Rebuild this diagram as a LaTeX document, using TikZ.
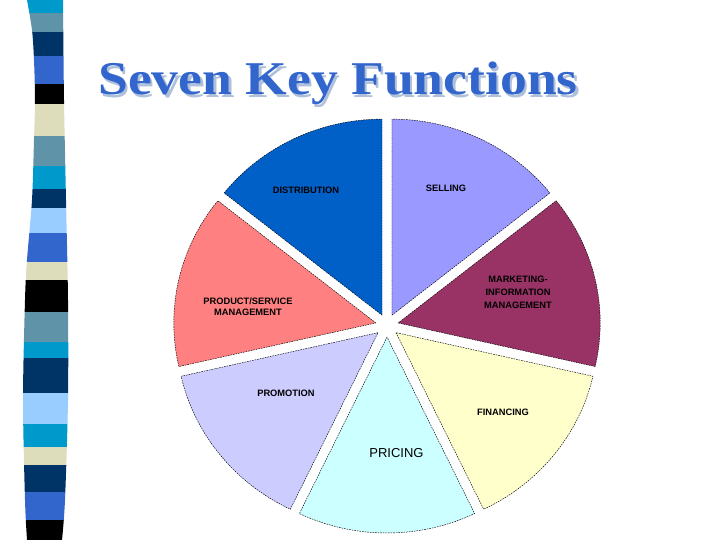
\documentclass[tikz,border=0pt]{standalone}
\usepackage{fontspec}
\setmainfont{Liberation Serif}
\setsansfont{Liberation Sans}
\usetikzlibrary{calc}
\definecolor{cyanB}{HTML}{0099CC}
\definecolor{steelB}{HTML}{5F93A8}
\definecolor{navyB}{HTML}{003366}
\definecolor{royalB}{HTML}{3366CC}
\definecolor{beigeB}{HTML}{DDDDBB}
\definecolor{lightB}{HTML}{99CCFF}
\definecolor{blackB}{HTML}{000000}
\definecolor{distC}{HTML}{0060C8}
\definecolor{sellC}{HTML}{9999FF}
\definecolor{markC}{HTML}{993366}
\definecolor{finC}{HTML}{FFFFCC}
\definecolor{priC}{HTML}{CCFFFF}
\definecolor{promC}{HTML}{CCCCFF}
\definecolor{prodC}{HTML}{FF8080}
\definecolor{titleC}{HTML}{3366CC}
\definecolor{shadowC}{HTML}{AFC0DA}
\begin{document}
\begin{tikzpicture}[x=1pt,y=1pt,
  slicestyle/.style={draw=black, line width=0.45pt, dash pattern=on 1.6pt off 1pt},
  lab/.style={font=\sffamily\bfseries\fontsize{9.3}{11.6}\selectfont, align=center, inner sep=0pt, text=black},
  titletext/.style={font=\bfseries\fontsize{47}{50}\selectfont, xscale=1.14, anchor=base, inner sep=0pt}]
\useasboundingbox (0,0) rectangle (720,540);
\fill[white] (0,0) rectangle (720,540);
% left ribbon
\begin{scope}
\clip plot[smooth] coordinates {(27,540) (32,510) (34,480) (35,440) (34,400) (32,340) (27,280) (25,240) (23,140) (25,40) (27,0)}
  -- plot[smooth] coordinates {(62,0) (65,40) (68,140) (68,240) (66,340) (64,440) (63,540)} -- cycle;
\foreach \ya/\yb/\c in {0/13/cyanB, 13/32/steelB, 32/56/navyB, 56/84/royalB, 84/104/blackB,
  104/136/beigeB, 136/166/steelB, 166/189/cyanB, 189/208/navyB, 208/233/lightB, 233/262/royalB,
  262/280/beigeB, 280/312/blackB, 312/342/steelB, 342/358/cyanB, 358/393/navyB, 393/424/lightB,
  424/447/cyanB, 447/465/beigeB, 465/492/navyB, 492/520/royalB, 520/540/blackB}
  \fill[\c] (10,{540-\ya}) rectangle (80,{540-\yb});
\end{scope}
% title
\node[titletext, text=shadowC] (tshadow) at (340.5,442.5) {Seven Key Functions};
\node[titletext, text=titleC] (title) at (338,445) {Seven Key Functions};
% pie
\coordinate (C) at (387,214.5);
\foreach \a/\b/\c/\n in {38.5714/90/sellC/s1, 90/141.4286/distC/s2, 141.4286/192.8571/prodC/s3,
  192.8571/244.2857/promC/s4, 244.2857/295.7143/priC/s5, 295.7143/347.1429/finC/s6,
  347.1429/398.5714/markC/s7}{
  \pgfmathsetmacro\m{(\a+\b)/2}
  \coordinate (\n) at ($(C)+(\m:11.5pt)$);
  \path[slicestyle, fill=\c] (\n) -- ++(\a:202pt and 196pt)
    arc[start angle=\a, end angle=\b, x radius=202pt, y radius=196pt] -- cycle;
}
% labels
\node[lab] (ldist) at (306,350) {DISTRIBUTION};
\node[lab] (lsell) at (446,352) {SELLING};
\node[lab, font=\sffamily\bfseries\fontsize{9.3}{13}\selectfont] (lmark) at (518,248) {MARKETING-\\INFORMATION\\MANAGEMENT};
\node[lab] (lprod) at (248,233.5) {PRODUCT/SERVICE\\MANAGEMENT};
\node[lab] (lprom) at (286,147) {PROMOTION};
\node[lab] (lfin) at (503,128) {FINANCING};
\node[inner sep=0pt, font=\sffamily\fontsize{13}{15}\selectfont] (lpri) at (396.5,87) {PRICING};
\end{tikzpicture}
\end{document}
